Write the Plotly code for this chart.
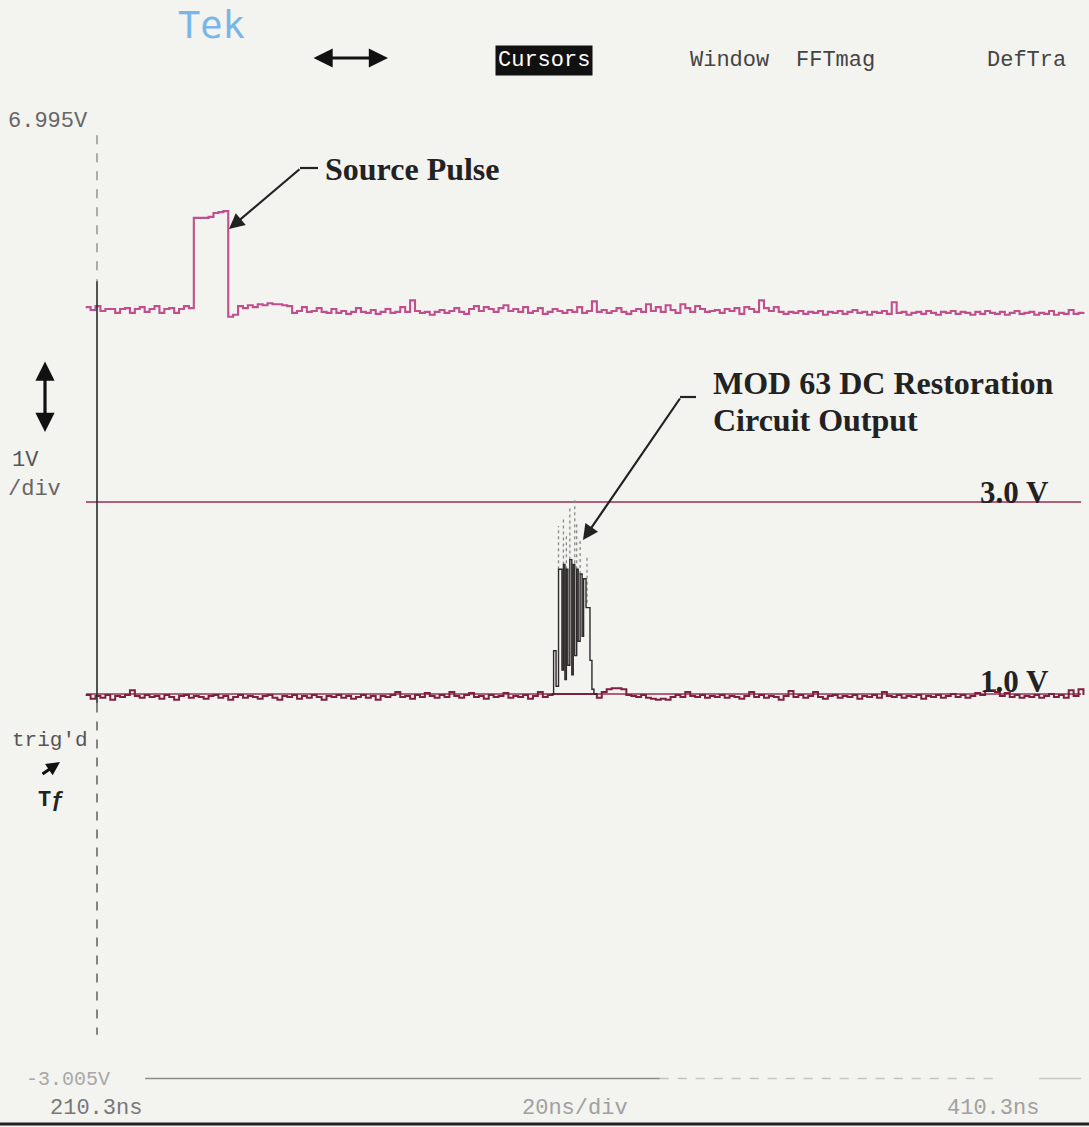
import plotly.graph_objects as go

# ---------------- data (time in ns, voltage in V) ----------------
src_t = list(range(208, 412))
src_v = [
    5.03, 5.00, 5.04, 4.99, 5.01, 5.01, 4.97, 5.01, 5.02, 4.97, 5.01, 5.03,
    4.98, 5.01, 5.04, 4.97, 5.01, 5.02, 4.97, 5.01, 5.04, 5.02,
    5.96, 5.96, 5.96, 5.97, 6.01, 6.02, 6.03,
    4.93, 4.95, 5.04, 5.02, 5.05, 5.03, 5.06, 5.05, 5.07, 5.06, 5.06, 5.05, 5.04,
    4.97, 4.99, 5.03, 4.98, 4.99, 5.02,
    4.98, 4.97, 5.01, 4.97, 4.99, 4.96, 4.98, 5.02, 4.98, 4.97, 5.00, 4.96, 4.98,
    5.01, 4.97, 4.98, 5.03, 4.98, 5.10, 4.99, 4.97, 4.98, 4.95, 4.98, 5.00, 4.97,
    4.99, 5.02, 4.98, 4.96, 5.01, 5.04, 4.99, 5.03, 5.01, 4.98, 5.02, 5.05, 4.99,
    5.01, 4.98, 5.03, 4.97, 4.99, 5.02, 4.96, 4.98, 5.01, 4.99, 4.97, 5.00, 4.98,
    5.03, 4.97, 4.99, 5.09, 4.98, 5.00, 4.97, 4.99, 5.02, 4.98, 4.96, 4.99, 5.01,
    4.98, 5.06, 4.99, 5.03, 4.98, 5.05, 5.00, 4.97, 5.06, 5.02, 4.98, 5.04, 5.01,
    4.98, 4.99, 5.00, 4.97, 5.01, 4.99, 5.02, 4.96, 5.03, 5.01, 4.98, 5.10, 5.02,
    4.99, 5.03, 4.98, 4.96, 4.98, 4.97, 4.99, 4.96, 4.98, 4.97, 4.99, 4.95, 4.98,
    4.97, 4.99, 4.96, 4.98, 5.00, 4.97, 4.98, 4.95, 4.98, 4.97, 4.99, 4.96, 5.08,
    4.97, 4.98, 4.95, 4.97, 4.98, 4.96, 4.99, 4.97, 4.95, 4.98, 4.97, 4.99, 4.96,
    4.98, 4.97, 4.95, 4.98, 4.96, 4.99, 4.97, 4.96, 4.98, 4.95, 4.97, 4.99, 4.96,
    4.97, 4.98, 4.95, 4.97, 4.96, 4.99, 4.95, 4.97, 4.96, 5.00, 4.96, 4.97, 4.98,
]

out_t = list(range(208, 412))
out_v = [
    0.99, 0.95, 0.98, 0.96, 0.99, 0.94, 0.98, 0.97, 0.99, 1.04, 0.98, 0.96,
    0.99, 0.97, 0.98, 0.95, 0.99, 0.97, 0.94, 0.98, 0.99, 0.96, 0.98, 0.97,
    0.95, 0.98, 0.99, 0.96, 0.98, 0.94, 0.97, 0.99, 0.96, 0.98, 0.97, 0.95,
    0.98, 0.99, 0.96, 0.94, 0.98, 0.97, 0.99, 0.95, 0.98, 0.96, 0.99, 0.97,
    0.94, 0.98, 0.97, 0.99, 0.96, 0.98, 0.95, 0.97, 0.99, 0.96, 0.98, 0.94,
    0.98, 0.97, 0.99, 1.02, 0.97, 0.98, 0.95, 0.99, 0.97, 1.01, 0.98, 0.96,
    0.99, 0.97, 1.02, 0.98, 0.96, 0.99, 1.01, 0.97, 0.98, 0.95, 0.99, 0.97,
    0.98, 1.01, 0.96, 0.98, 0.97, 0.99, 0.95, 0.98, 1.02, 0.97, 0.99, 1.00,
    1.00, 1.00, 1.00, 1.00, 1.00, 1.00, 1.00, 1.00, 0.96, 1.02, 1.05, 1.06,
    1.06, 1.05, 0.99, 0.98, 0.97, 0.99, 0.96, 0.95, 0.94, 0.95, 0.94, 0.97,
    0.99, 0.97, 1.02, 0.98, 0.97, 0.99, 0.96, 0.98, 0.97, 0.99, 0.96, 0.98,
    0.97, 0.95, 0.98, 1.02, 0.97, 0.99, 0.96, 0.98, 0.97, 0.94, 0.98, 1.03,
    0.97, 0.99, 0.96, 0.98, 1.02, 0.97, 0.95, 0.98, 0.99, 0.96, 0.98, 0.97,
    0.99, 0.95, 0.98, 0.97, 0.99, 0.96, 1.02, 0.98, 0.97, 0.99, 0.96, 0.98,
    0.97, 0.99, 0.95, 0.98, 0.97, 0.99, 0.96, 0.98, 1.00, 0.97, 0.99, 0.96,
    0.98, 1.01, 0.99, 1.03, 1.04, 1.02, 0.98, 1.01, 0.97, 0.99, 0.96, 0.98,
    0.97, 0.99, 0.96, 0.98, 1.00, 0.97, 0.99, 0.96, 1.04, 0.98, 1.05, 0.99,
]

burst_t = [302.8, 303.2, 303.7, 304.2, 304.9, 305.2, 305.5, 305.8, 306.1, 306.5,
           306.9, 307.2, 307.5, 307.9, 308.2, 308.6, 309.0, 309.3, 309.8, 310.6,
           311.0, 311.4, 312.0]
burst_v = [1.00, 1.45, 1.08, 2.30, 1.25, 2.35, 1.15, 2.30, 1.30, 2.40,
           1.20, 2.35, 1.40, 2.30, 1.55, 2.25, 1.60, 2.20, 1.90, 1.35,
           1.05, 1.00, 1.00]

peak_t = [304.2, 304.2, None, 305.2, 305.2, None, 305.8, 305.8, None, 306.5, 306.5,
          None, 307.5, 307.5, None, 307.9, 307.9, None, 308.6, 308.6, None, 310.0, 310.0]
peak_v = [2.30, 2.75, None, 2.35, 2.85, None, 2.30, 2.65, None, 2.40, 2.95,
          None, 2.30, 3.05, None, 2.30, 2.80, None, 2.25, 2.60, None, 1.95, 2.45]

ref_levels = [3.0, 1.0]
ref_labels = ["3.0 V", "1.0 V"]
v_top, v_bottom = 6.995, -3.005
t_left, t_right = 210.3, 410.3

# ---------------- figure ----------------
BG = "#f3f3ef"
fig = go.Figure()

fig.add_trace(go.Scatter(x=out_t, y=out_v, mode="lines", line_shape="hv",
                         line=dict(color="#7e2040", width=2.0), hoverinfo="skip"))
fig.add_trace(go.Scatter(x=peak_t, y=peak_v, mode="lines",
                         line=dict(color="#8a8a8a", width=1.3, dash="dot"), hoverinfo="skip"))
fig.add_trace(go.Scatter(x=burst_t, y=burst_v, mode="lines", line_shape="hv",
                         line=dict(color="#2e2a2c", width=1.4), hoverinfo="skip"))
fig.add_trace(go.Scatter(x=src_t, y=src_v, mode="lines", line_shape="hv",
                         line=dict(color="#c0508c", width=2.1), hoverinfo="skip"))

L, R, T, B = 85, 4, 100, 42
W, H = 1089, 1127
PW, PH = W - L - R, H - T - B
px_per_ns = 4.915
px_per_v = 96.0
x0 = t_left - (97 - L) / px_per_ns
x1 = x0 + PW / px_per_ns
y1 = ref_levels[0] + (502 - T) / px_per_v
y0 = y1 - PH / px_per_v


def xp(px):
    return (px - L) / PW


def yp(py):
    return (H - B - py) / PH


shapes = []
# reference level lines
for lv in ref_levels:
    shapes.append(dict(type="line", xref="x", yref="y", x0=x0 + 0.2, x1=x1 - 0.8, y0=lv, y1=lv,
                       line=dict(color="#9a2f52", width=1.6), layer="below"))
# vertical axis line (left of graticule)
shapes.append(dict(type="line", xref="x", yref="y", x0=t_left, x1=t_left, y0=6.82, y1=5.3,
                   line=dict(color="#8d8d8d", width=1.4, dash="dash")))
shapes.append(dict(type="line", xref="x", yref="y", x0=t_left, x1=t_left, y0=5.3, y1=0.9,
                   line=dict(color="#2a2a2a", width=1.6)))
shapes.append(dict(type="line", xref="x", yref="y", x0=t_left, x1=t_left, y0=0.9, y1=-2.55,
                   line=dict(color="#555555", width=1.4, dash="dash")))
# bottom graticule line
shapes.append(dict(type="line", xref="x", yref="y", x0=220.1, x1=324.8, y0=v_bottom, y1=v_bottom,
                   line=dict(color="#8c8c8c", width=1.5)))
shapes.append(dict(type="line", xref="x", yref="y", x0=324.8, x1=393.0, y0=v_bottom, y1=v_bottom,
                   line=dict(color="#c4c4c4", width=1.5, dash="dash")))
shapes.append(dict(type="line", xref="x", yref="y", x0=402.0, x1=410.5, y0=v_bottom, y1=v_bottom,
                   line=dict(color="#c4c4c4", width=1.5)))
# bottom edge line of photo
shapes.append(dict(type="line", xref="paper", yref="paper", x0=xp(0), x1=xp(W), y0=yp(1124), y1=yp(1124),
                   line=dict(color="#222222", width=3)))
# leader segments of callout arrows
shapes.append(dict(type="line", xref="paper", yref="paper", x0=xp(300), x1=xp(318), y0=yp(168), y1=yp(168),
                   line=dict(color="#222222", width=2.2)))
shapes.append(dict(type="line", xref="paper", yref="paper", x0=xp(680), x1=xp(696), y0=yp(397), y1=yp(397),
                   line=dict(color="#222222", width=2.2)))

ann = []


def text(s, px, py, size, color, family, anchor="left", bold=False, bg=None):
    d = dict(x=xp(px), y=yp(py), xref="paper", yref="paper", text=("<b>%s</b>" % s) if bold else s,
             showarrow=False, xanchor=anchor, yanchor="middle",
             font=dict(size=size, color=color, family=family))
    if bg:
        d["bgcolor"] = bg
        d["borderpad"] = 2
    ann.append(d)


MONO = "Liberation Mono"
SERIF = "Liberation Serif"

text("Tek", 176, 25, 37, "#78b6ea", "DejaVu Sans Mono")
text("Cursors", 544, 60, 22, "#ffffff", MONO, anchor="center", bg="#111111")
text("Window", 688, 61, 22, "#444444", MONO)
text("FFTmag", 794, 61, 22, "#444444", MONO)
text("DefTra", 985, 61, 22, "#444444", MONO)
text("%.3fV" % v_top, 6, 121, 22, "#666666", MONO)
text("1V", 10, 460, 22, "#555555", MONO)
text("/div", 6, 490, 22, "#666666", MONO)
text("trig'd", 10, 740, 21, "#555555", MONO)
text("<b>Tƒ</b>", 36, 800, 22, "#222222", MONO)
text("%.3fV" % v_bottom, 24, 1079, 20, "#a8a8a8", MONO)
text("%.1fns" % t_left, 48, 1108, 22, "#777777", MONO)
text("20ns/div", 520, 1108, 22, "#a0a0a0", MONO)
text("%.1fns" % t_right, 945, 1108, 22, "#a0a0a0", MONO)

text("Source Pulse", 323, 169, 32, "#222222", SERIF, bold=True)
text("MOD 63 DC Restoration", 711, 383, 32, "#222222", SERIF, bold=True)
text("Circuit Output", 711, 420, 32, "#222222", SERIF, bold=True)
text(ref_labels[0], 978, 493, 31, "#222222", SERIF, bold=True)
text(ref_labels[1], 978, 681, 31, "#222222", SERIF, bold=True)


def arrow(tipx, tipy, tailx, taily, width=2.2, size=1.4, both=False, color="#222222"):
    d = dict(x=xp(tipx), y=yp(tipy), xref="paper", yref="paper", ax=tailx - tipx, ay=taily - tipy,
             showarrow=True, text="", arrowhead=2, arrowsize=size, arrowwidth=width,
             arrowcolor=color, standoff=0, startstandoff=0)
    if both:
        d["arrowside"] = "end+start"
        d["startarrowhead"] = 2
        d["startarrowsize"] = size
    ann.append(d)


arrow(229, 229, 301, 168)
arrow(583, 540, 681, 397)
arrow(388, 58, 312, 58, width=3.2, size=1.2, both=True, color="#111111")
arrow(45, 432, 45, 360, width=3.2, size=1.2, both=True, color="#111111")
arrow(60, 762, 41, 775, width=3, size=0.9, color="#111111")

fig.update_layout(
    width=W, height=H,
    margin=dict(l=L, r=R, t=T, b=B),
    paper_bgcolor=BG, plot_bgcolor=BG,
    showlegend=False,
    xaxis=dict(range=[x0, x1], visible=False, fixedrange=True),
    yaxis=dict(range=[y0, y1], visible=False, fixedrange=True),
    shapes=shapes,
    annotations=ann,
)

fig.write_html("out.html")
